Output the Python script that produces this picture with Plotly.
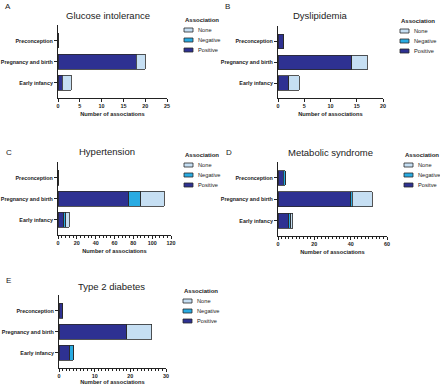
import plotly.graph_objects as go

W, H = 440, 385

categories = ["Preconception", "Pregnancy and birth", "Early infancy"]
series_keys = ["Positive", "Negative", "None"]
colors = {"Positive": "#2e3192", "Negative": "#29abe2", "None": "#c6dff3"}

panel_titles = ["Glucose intolerance", "Dyslipidemia", "Hypertension", "Metabolic syndrome", "Type 2 diabetes"]
panel_letters = ["A", "B", "C", "D", "E"]

# values per category: Preconception, Pregnancy and birth, Early infancy
glucose_positive = [0, 18, 1]
glucose_negative = [0, 0, 0]
glucose_none = [0, 2, 2]

dyslipidemia_positive = [1, 14, 2]
dyslipidemia_negative = [0, 0, 0]
dyslipidemia_none = [0, 3, 2]

hypertension_positive = [1, 75, 6]
hypertension_negative = [0, 13, 2]
hypertension_none = [0, 25, 4]

metabolic_positive = [3, 40, 6]
metabolic_negative = [1, 1, 1]
metabolic_none = [0, 11, 1]

t2d_positive = [1, 19, 3]
t2d_negative = [0, 0, 1]
t2d_none = [0, 7, 0]

panel_data = [
    {"Positive": glucose_positive, "Negative": glucose_negative, "None": glucose_none},
    {"Positive": dyslipidemia_positive, "Negative": dyslipidemia_negative, "None": dyslipidemia_none},
    {"Positive": hypertension_positive, "Negative": hypertension_negative, "None": hypertension_none},
    {"Positive": metabolic_positive, "Negative": metabolic_negative, "None": metabolic_none},
    {"Positive": t2d_positive, "Negative": t2d_negative, "None": t2d_none},
]

legend_labels = [
    ["None", "Negative", "Positive"],
    ["None", "Negative", "Positive"],
    ["None", "Negative", "Positive"],
    ["None", "Negative", "Positve"],
    ["None", "Negative", "Positive"],
]
legend_title = "Association"
x_title = "Number of associations"

x_max = [25, 20, 120, 60, 30]
x_major = [5, 5, 20, 20, 10]
x_minor = [None, None, 4, 2, 1]

# layout in pixels: (x0, x1, ytop, ybottom)
plot_boxes = [
    (58, 167, 25, 98),
    (278, 383, 26, 98),
    (58, 171, 162, 235),
    (278, 387, 162, 236),
    (59, 166, 295, 368),
]
title_pos = [(108, 15), (320, 15), (107, 151), (330, 152), (112, 286)]
letter_pos = [(3, 6), (223, 6), (4, 152), (224, 152), (4, 280)]
legend_pos = [(184, 20), (400, 21), (184, 155), (404, 155), (183, 291)]

FONT = "Liberation Sans, Arial, Helvetica, sans-serif"
EDGE = "#2a2a2a"

def px(x):
    return x / W

def py(y):
    return 1 - y / H

fig = go.Figure()
annotations = []
shapes = []
layout_axes = {}

for i in range(5):
    xa = "x" if i == 0 else f"x{i+1}"
    ya = "y" if i == 0 else f"y{i+1}"
    data = panel_data[i]
    for key in series_keys:
        fig.add_trace(go.Bar(
            y=categories, x=data[key], orientation="h", name=key,
            marker=dict(color=colors[key], line=dict(color=EDGE, width=0.8)),
            width=0.7, xaxis=xa, yaxis=ya, showlegend=False,
        ))
    x0, x1, yt, yb = plot_boxes[i]
    xkey = "xaxis" if i == 0 else f"xaxis{i+1}"
    ykey = "yaxis" if i == 0 else f"yaxis{i+1}"
    minor = dict(ticks="outside", ticklen=1.5, tickcolor="#222", tickwidth=0.8, dtick=x_minor[i]) if x_minor[i] else None
    xaxis = dict(
        domain=[px(x0), px(x1)], anchor=ya, range=[0, x_max[i]], dtick=x_major[i], tick0=0,
        showline=True, linecolor="#222", linewidth=1, ticks="outside", ticklen=3, tickwidth=1,
        tickcolor="#222", showgrid=False, zeroline=False, automargin=False,
        tickfont=dict(family=FONT, size=5.4, color="#222", weight="bold"),
        title=dict(text=x_title, font=dict(family=FONT, size=5.7, color="#222", weight="bold"), standoff=3),
        fixedrange=True,
    )
    if minor:
        xaxis["minor"] = minor
    layout_axes[xkey] = xaxis
    layout_axes[ykey] = dict(
        domain=[py(yb), py(yt)], anchor=xa, type="category",
        categoryorder="array", categoryarray=categories[::-1], range=[-0.72, 2.75],
        showline=True, linecolor="#222", linewidth=1, ticks="outside", ticklen=3, tickwidth=1,
        tickcolor="#222", showgrid=False, zeroline=False, automargin=False,
        tickfont=dict(family=FONT, size=5.4, color="#222", weight="bold"),
        fixedrange=True,
    )
    tx, ty = title_pos[i]
    annotations.append(dict(text=panel_titles[i], x=px(tx), y=py(ty), xref="paper", yref="paper",
                            showarrow=False, xanchor="center", yanchor="middle",
                            font=dict(family=FONT, size=9.5, color="#222")))
    lx, ly = letter_pos[i]
    annotations.append(dict(text=panel_letters[i], x=px(lx), y=py(ly), xref="paper", yref="paper",
                            showarrow=False, xanchor="left", yanchor="middle",
                            font=dict(family=FONT, size=8, color="#222")))
    gx, gy = legend_pos[i]
    annotations.append(dict(text=legend_title, x=px(gx - 1), y=py(gy), xref="paper", yref="paper",
                            showarrow=False, xanchor="left", yanchor="middle",
                            font=dict(family=FONT, size=6.0, color="#222", weight="bold")))
    legend_keys = series_keys[::-1]
    for j, key in enumerate(legend_keys):
        iy = gy + 10 * (j + 1)
        shapes.append(dict(type="rect", xref="paper", yref="paper",
                           x0=px(gx), x1=px(gx + 9), y0=py(iy + 2), y1=py(iy - 2),
                           fillcolor=colors[key], line=dict(color=EDGE, width=0.8)))
        annotations.append(dict(text=legend_labels[i][j], x=px(gx + 12), y=py(iy), xref="paper", yref="paper",
                                showarrow=False, xanchor="left", yanchor="middle",
                                font=dict(family=FONT, size=5.7, color="#222")))

fig.update_layout(
    template="none",
    width=W, height=H, margin=dict(l=0, r=0, t=0, b=0),
    paper_bgcolor="white", plot_bgcolor="white",
    barmode="stack", showlegend=False,
    annotations=annotations, shapes=shapes,
    **layout_axes,
)

fig.write_html(
    "out.html",
    config={"displayModeBar": False},
    post_script="document.body.style.margin='0';document.body.style.overflow='hidden';",
)
